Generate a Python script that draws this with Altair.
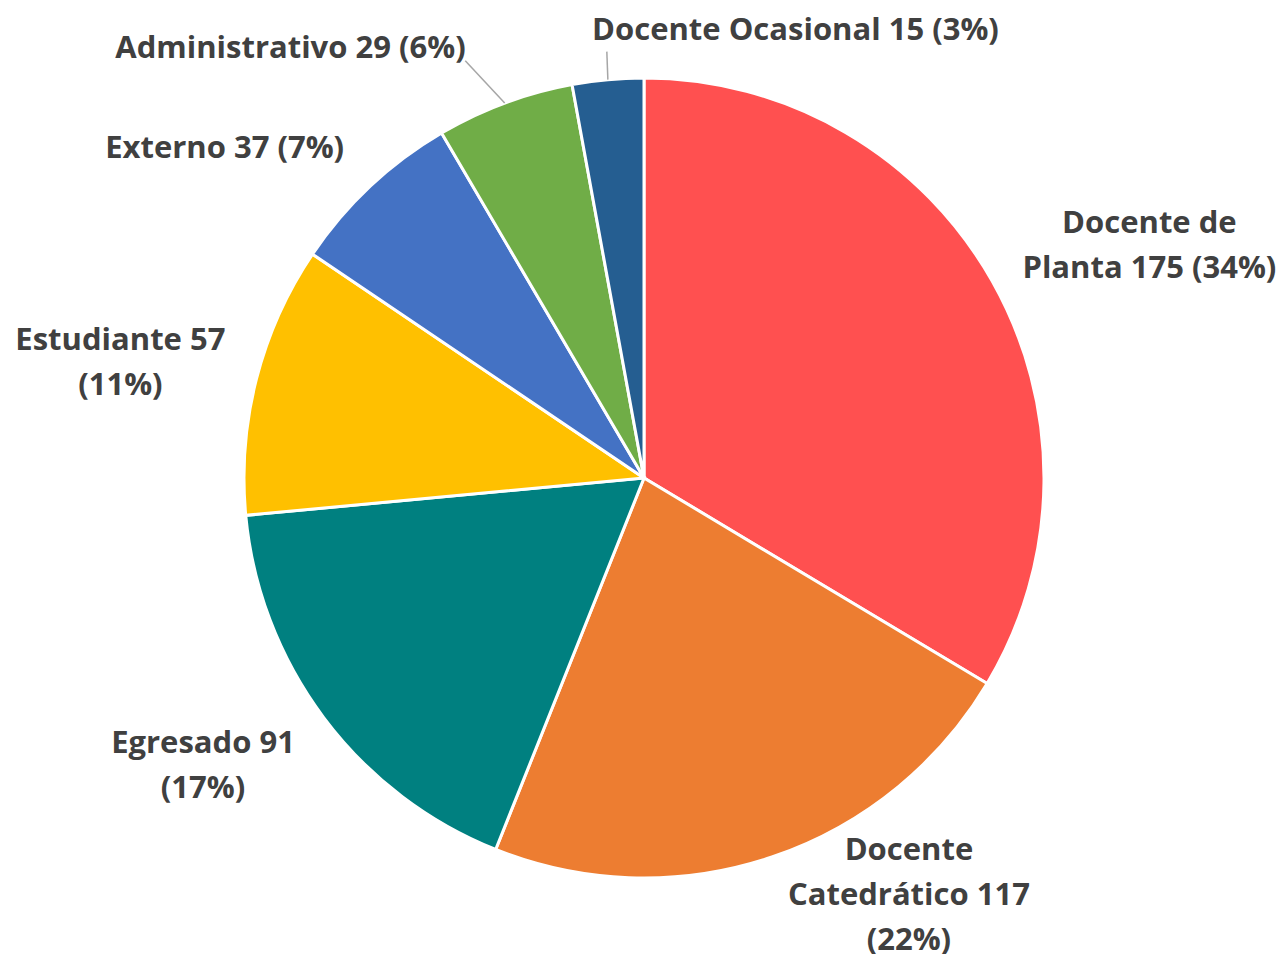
import altair as alt
import pandas as pd

categories = ["Docente de Planta", "Docente Catedrático", "Egresado", "Estudiante",
              "Externo", "Administrativo", "Docente Ocasional"]
values = [175, 117, 91, 57, 37, 29, 15]
label_texts = ["Docente de\nPlanta 175 (34%)", "Docente\nCatedrático 117\n(22%)",
               "Egresado 91\n(17%)", "Estudiante 57\n(11%)", "Externo 37 (7%)",
               "Administrativo 29 (6%)", "Docente Ocasional 15 (3%)"]
colors = ["#FF5050", "#ED7D31", "#008080", "#FFC000", "#4472C4", "#70AD47", "#255E91"]

# label layout: angular shift from slice mid-angle (deg) and distance from centre (px)
label_shift = [4.9, -13.7, 3.6, -2.0, -8.7, -19.1, 23.9]
label_radius = [556, 495, 527, 536, 533, 556, 472]
# leader lines: end radius (0 = none) and angular shift of the end
leader_radius = [0, 0, 0, 0, 0, 454, 428]
leader_shift = [0, 0, 0, 0, 0, -2.8, 0.2]

CX, CY, R = 636, 470, 400
LH = 45

df = pd.DataFrame({
    "category": categories, "value": values, "label": label_texts,
    "order": list(range(len(categories))),
    "lshift": label_shift, "lrad": label_radius,
    "ldr": leader_radius, "ldshift": leader_shift,
})

base = alt.Chart(df)

arc = base.mark_arc(radius=R, stroke="white", strokeWidth=3).encode(
    theta=alt.Theta("value:Q", stack=True),
    order=alt.Order("order:Q"),
    color=alt.Color("category:N", scale=alt.Scale(domain=categories, range=colors), legend=None),
    x=alt.value(CX), y=alt.value(CY),
)

geo = base.transform_joinaggregate(total="sum(value)").transform_window(
    cum="sum(value)", sort=[alt.SortField("order")], frame=[None, 0]
).transform_calculate(
    mid="(datum.cum - datum.value/2) / datum.total * 2 * PI",
    nl="length(split(datum.label, '\\n'))",
).transform_calculate(
    la="datum.mid + datum.lshift * PI / 180",
    le="datum.mid + datum.ldshift * PI / 180",
).transform_calculate(
    tx=f"{CX} + datum.lrad * sin(datum.la)",
    ty=f"{CY} - datum.lrad * cos(datum.la) - (datum.nl - 1) * {LH} / 2",
    x1=f"{CX} + {R} * sin(datum.mid)",
    y1=f"{CY} - {R} * cos(datum.mid)",
    x2=f"{CX} + datum.ldr * sin(datum.le)",
    y2=f"{CY} - datum.ldr * cos(datum.le)",
)

rules = geo.transform_filter("datum.ldr > 0").mark_rule(color="#A6A6A6", strokeWidth=1.5).encode(
    x=alt.X("x1:Q", scale=None), y=alt.Y("y1:Q", scale=None),
    x2="x2:Q", y2="y2:Q",
)

text = geo.mark_text(
    font="Open Sans", fontWeight="bold", fontSize=31, color="#404040",
    align="center", baseline="middle", lineBreak="\n", lineHeight=LH,
).encode(
    x=alt.X("tx:Q", scale=None), y=alt.Y("ty:Q", scale=None),
    text="label:N",
)

chart = alt.layer(arc, rules, text).properties(
    width=1272, height=946, padding=0,
    autosize=alt.AutoSizeParams(type="fit", contains="padding"),
    background="white",
).configure_view(stroke=None)

chart.save("out.html", embed_options={"renderer": "svg", "actions": False})
